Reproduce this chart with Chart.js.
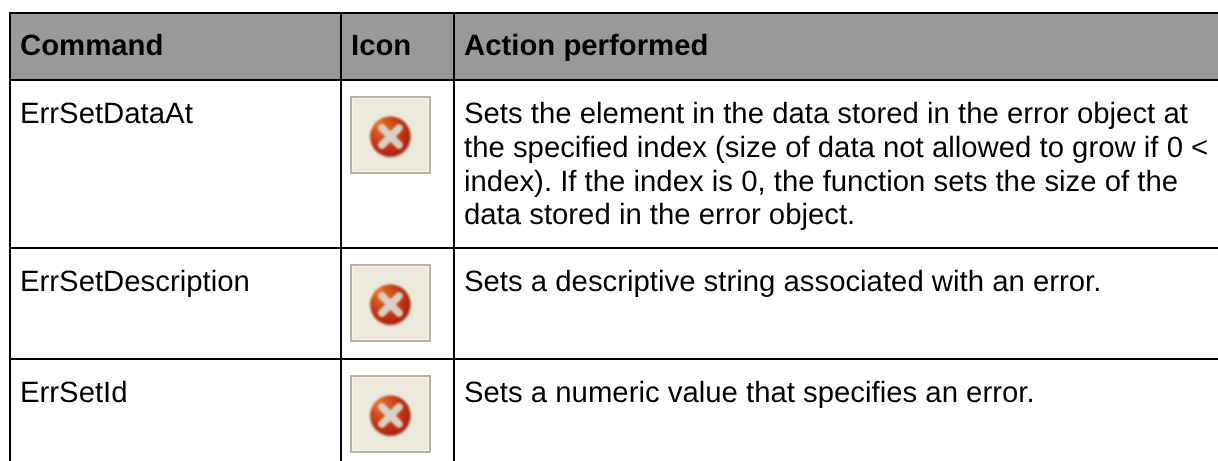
<!DOCTYPE html>
<html>
<head>
<meta charset="utf-8">
<style>
html, body { margin: 0; padding: 0; background: #fff; overflow: hidden; }
#wrap { width: 1218px; height: 461px; }
</style>
<script src="https://cdn.jsdelivr.net/npm/chart.js@4/dist/chart.umd.min.js"></script>
</head>
<body>
<div id="wrap"><canvas id="tabla"></canvas></div>
<script>
const headers = ['Command', 'Icon', 'Action performed'];
const commands = ['ErrSetDataAt', 'ErrSetDescription', 'ErrSetId'];
const actions = [
    ['Sets the element in the data stored in the error object at',
     'the specified index (size of data not allowed to grow if 0 <',
     'index). If the index is 0, the function sets the size of the',
     'data stored in the error object.'],
    ['Sets a descriptive string associated with an error.'],
    ['Sets a numeric value that specifies an error.']
];

// table layout, in page pixels
const colEdges = [10, 341, 454];
const rowEdges = [13, 80, 248, 359];
const iconX = 390.5;
const iconY = [135, 303, 414];

function iconCanvas() {
    const c = document.createElement('canvas');
    c.width = 81; c.height = 78;
    const g = c.getContext('2d');
    g.fillStyle = '#ebe9db';
    g.fillRect(0, 0, 81, 78);
    g.strokeStyle = '#b5b3a2';
    g.lineWidth = 2;
    g.strokeRect(1, 1, 79, 76);
    g.strokeStyle = '#f6f5ec';
    g.lineWidth = 1;
    g.strokeRect(2.5, 2.5, 76, 73);
    g.filter = 'blur(1px)';
    // soft shadow under the ball
    g.fillStyle = 'rgba(120,110,90,0.3)';
    g.beginPath();
    g.arc(41, 41.5, 20.5, 0, Math.PI * 2);
    g.fill();
    const r = g.createRadialGradient(28, 27, 2, 40, 40, 24);
    r.addColorStop(0, '#e2702c');
    r.addColorStop(0.5, '#cb4418');
    r.addColorStop(1, '#a8140a');
    g.fillStyle = r;
    g.beginPath();
    g.arc(40.3, 40.5, 20, 0, Math.PI * 2);
    g.fill();
    g.strokeStyle = '#d8d0c6';
    g.lineWidth = 7.5;
    g.lineCap = 'round';
    g.beginPath();
    g.moveTo(32, 32); g.lineTo(49, 49);
    g.moveTo(49, 32); g.lineTo(32, 49);
    g.stroke();
    return c;
}

const textoTabla = {
    id: 'textoTabla',
    beforeDatasetsDraw(chart) {
        const { ctx, scales: { x, y } } = chart;
        const right = x.getPixelForValue(x.max);
        const bottom = y.getPixelForValue(y.max);
        const left = x.getPixelForValue(colEdges[0]);
        const top = y.getPixelForValue(rowEdges[0]);
        ctx.save();
        ctx.fillStyle = '#999999';
        ctx.fillRect(left, top, right - left, y.getPixelForValue(rowEdges[1]) - top);
        ctx.fillStyle = '#000';
        rowEdges.forEach(r => ctx.fillRect(left - 1, y.getPixelForValue(r) - 1, right - left + 1, 2));
        colEdges.forEach(c => ctx.fillRect(x.getPixelForValue(c) - 1, top - 1, 2, bottom - top + 1));
        ctx.textBaseline = 'alphabetic';
        ctx.textRendering = 'geometricPrecision';
        ctx.font = 'bold 29.33px "Liberation Sans"';
        headers.forEach((h, i) => ctx.fillText(h, x.getPixelForValue(colEdges[i] + 10), y.getPixelForValue(55)));
        ctx.font = '29.33px "Liberation Sans"';
        commands.forEach((c, i) => ctx.fillText(c, x.getPixelForValue(colEdges[0] + 10), y.getPixelForValue(rowEdges[i + 1] + 43)));
        actions.forEach((lines, i) => {
            lines.forEach((l, j) => ctx.fillText(l, x.getPixelForValue(colEdges[2] + 10), y.getPixelForValue(rowEdges[i + 1] + 43 + j * 33.8)));
        });
        ctx.restore();
    }
};

const myChart = new Chart(document.getElementById('tabla'), {
    type: 'scatter',
    data: {
        datasets: [{
            data: iconY.map(v => ({ x: iconX, y: v })),
            pointStyle: iconCanvas(),
            pointRadius: 41
        }]
    },
    options: {
        animation: false,
        responsive: true,
        maintainAspectRatio: false,
        layout: { padding: 0, autoPadding: false },
        plugins: { legend: { display: false }, tooltip: { enabled: false } },
        scales: {
            x: { type: 'linear', min: 0, max: 1218, display: false },
            y: { type: 'linear', min: 0, max: 461, reverse: true, display: false }
        }
    },
    plugins: [textoTabla]
});
</script>
</body>
</html>
